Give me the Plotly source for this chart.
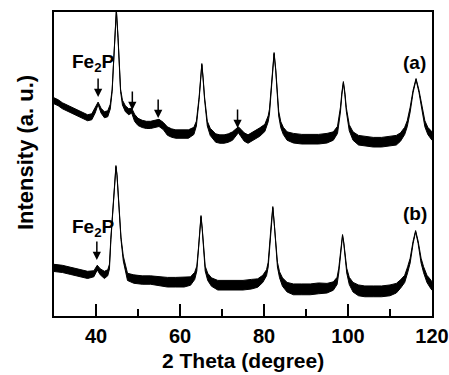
import plotly.graph_objects as go

# ---- data (intensity in arbitrary units) ----
a_theta = [30, 31, 32, 33, 34, 35, 36, 37, 38, 39, 39.8, 40.5, 41.2, 42, 42.8, 43.4, 43.85, 44.15, 44.45, 44.85,
           45.25, 45.55, 45.85, 46.3, 47, 47.8, 48.5, 49.2, 50, 51, 52, 53, 54, 55, 56, 57, 58, 59, 60, 61, 62,
           63.3, 63.9, 64.55, 64.9, 65.2, 65.5, 65.85, 66.5, 67.2, 68.5, 69.5, 70.5, 71.5, 72.5, 73.3, 73.9, 74.5,
           75.3, 76.2, 77, 78, 79, 80.2, 81.0, 81.3, 81.65, 82.0, 82.4, 82.8, 83.15, 83.5, 84.0, 84.6, 85.5, 87,
           89, 91, 93, 95, 96.5, 97.5, 98.2, 98.55, 98.9, 99.25, 99.6, 100.3, 101.2, 102.5, 104, 106, 108, 110,
           111.5, 112.5, 113.5, 114.1, 114.8, 115.5, 116.2, 116.9, 117.6, 118.3, 119.0, 120]
a_int = [216, 214, 211, 209, 207, 205, 203, 201, 199, 200, 206, 213, 206, 202, 203, 210, 226, 251, 278, 306,
         278, 251, 226, 214, 208, 205, 206, 199, 195, 193, 192, 192, 193, 194, 191, 186, 184, 183, 183, 183, 183,
         186, 193, 218, 238, 252, 238, 218, 193, 185, 179, 178, 178, 179, 181, 184, 187, 184,
         180, 178, 180, 182, 185, 189, 198, 205, 222, 246, 263, 246, 222, 203, 192, 186, 181, 179,
         178, 178, 178, 179, 181, 187, 207, 223, 234, 223, 207, 189, 181, 177, 176, 175, 175, 176,
         177, 180, 186, 193, 207, 225, 237, 225, 207, 193, 186, 181]
a_noise = [2.5, 2.5, 2.5, 2.5, 2.5, 2.5, 2.5, 2.5, 2.5, 2.5, 2, 1, 2, 2.5, 2.5, 2, 1, 0.5, 0.5, 0.5,
           0.5, 0.5, 1, 2, 2.5, 2.5, 2, 3, 3, 3, 3, 3, 3, 3, 3, 3.5, 3.5, 3.5, 3.5, 3.5, 3.5,
           3, 2, 1, 0.5, 0.5, 0.5, 1, 2, 3, 3.5, 3.5, 3.5, 3.5, 3.5, 3, 2.5, 3,
           3.5, 3.5, 3.5, 3.5, 3.5, 3, 2.5, 2, 1, 0.5, 0.5, 0.5, 1, 2, 2.5, 3, 3.5, 4,
           4, 4, 4, 4, 3.5, 3, 2, 1, 0.5, 1, 1.5, 2.5, 3.5, 4, 4, 4, 4, 4,
           4, 3.5, 3, 2.5, 2, 1, 0.5, 1, 2, 2.5, 3, 3.5]

b_theta = [30, 32, 34, 36, 38, 39.5, 40.3, 41, 42, 42.8, 43.2, 43.55, 44.1, 44.5, 44.75, 45.0, 45.4, 45.95,
           46.5, 47.5, 49, 51, 53, 55, 57, 59, 61, 62.5, 63.5, 64.0, 64.4, 64.7, 65.0, 65.3, 65.6, 66.0, 66.6,
           67.5, 69, 71, 73, 75, 77, 78.5, 79.7, 80.6, 81.0, 81.4, 81.75, 82.1, 82.45, 82.8, 83.2, 83.7, 84.4,
           85.5, 87, 89, 91, 93, 95, 96.5, 97.4, 97.8, 98.1, 98.4, 98.7, 99.0, 99.35, 99.7, 100.3, 101.2, 102.5,
           104, 106, 108, 110, 111.5, 112.5, 113.5, 114.2, 114.8, 115.5, 116.1, 116.7, 117.4, 118.0, 118.8,
           119.5, 120]
b_int = [49, 48, 46, 44, 42, 43, 49, 45, 42, 44, 50, 78, 111, 141, 150, 141, 111, 78,
         58, 40, 38, 37, 37, 36, 35, 35, 35, 36, 41, 48, 67, 87, 100, 87, 67, 48, 40,
         35, 32, 32, 32, 32, 33, 34, 38, 44, 52, 70, 93, 109, 93, 70, 52, 42, 35,
         30, 28, 28, 28, 29, 29, 31, 36, 46, 59, 73, 81, 73, 59, 46, 36, 30, 27,
         26, 26, 26, 27, 29, 33, 38, 47, 56, 74, 85, 74, 56, 47, 38,
         34, 31]
b_noise = [3, 3, 3, 3, 3, 2.5, 2, 2.5, 3, 2.5, 2, 1, 0.5, 0.5, 0.5, 0.5, 0.5, 1,
           2, 3, 3.5, 3.5, 3.5, 3.5, 4, 4, 4, 3.5, 3, 2, 1, 0.5, 0.5, 0.5, 1, 2, 3,
           3.5, 4, 4, 4, 4, 4, 3.5, 3, 2.5, 2, 1, 0.5, 0.5, 0.5, 1, 2, 2.5, 3.5,
           4, 4.5, 4.5, 4.5, 4.5, 4, 3.5, 3, 2, 1, 0.5, 0.5, 0.5, 1, 2, 3, 4, 4.5,
           4.5, 4.5, 4.5, 4.5, 4, 3.5, 3, 2.5, 2, 1, 0.5, 1, 2, 2.5, 3,
           3.5, 3.5]

x_ticks = [40, 60, 80, 100, 120]

FONT = "Liberation Sans, Arial, Helvetica, sans-serif"

fig = go.Figure()
for th, it, nz in [(a_theta, a_int, a_noise), (b_theta, b_int, b_noise)]:
    lower = [v - 1.5 * n for v, n in zip(it, nz)]
    upper = [v + 0.9 * n for v, n in zip(it, nz)]
    fig.add_trace(go.Scatter(x=th, y=lower, mode="lines", line=dict(color="black", width=1),
                             showlegend=False, hoverinfo="skip"))
    fig.add_trace(go.Scatter(x=th, y=upper, mode="lines", line=dict(color="black", width=1),
                             fill="tonexty", fillcolor="black", showlegend=False, hoverinfo="skip"))

# arrows marking Fe2P reflections
arrow_pts = [(40.5, 219), (48.65, 206), (54.8, 198), (73.7, 188), (40.2, 56)]
for xa, ya in arrow_pts:
    fig.add_annotation(x=xa, y=ya, text="", showarrow=True, ax=0, ay=-20, arrowhead=2,
                       arrowsize=1.1, arrowwidth=1.5, arrowcolor="black", standoff=0)

labels = [(39.3, 253, "Fe<sub>2</sub>P"), (39.3, 88, "Fe<sub>2</sub>P"), (115.95, 254, "(a)"), (115.95, 103, "(b)")]
for xl, yl, tx in labels:
    fig.add_annotation(x=xl, y=yl, text=tx, showarrow=False, xanchor="center", yanchor="middle",
                       font=dict(family=FONT, size=19, color="black", weight="bold"))

fig.add_annotation(xref="paper", yref="paper", x=-0.077, y=0.539, text="Intensity (a. u.)",
                   textangle=-90, showarrow=False, xanchor="center", yanchor="middle",
                   font=dict(family=FONT, size=22, color="black", weight="bold"))
fig.add_annotation(xref="paper", yref="paper", x=0.5, y=-0.148, text="2 Theta (degree)",
                   showarrow=False, xanchor="center", yanchor="middle",
                   font=dict(family=FONT, size=21, color="black", weight="bold"))

fig.update_layout(
    width=449, height=375,
    margin=dict(l=54, r=17, t=12, b=59, autoexpand=False),
    paper_bgcolor="white", plot_bgcolor="white",
    showlegend=False,
)
fig.update_xaxes(range=[30, 120], tickmode="array", tickvals=x_ticks, ticktext=[str(v) for v in x_ticks],
                 ticks="inside", ticklen=12, tickwidth=1.5, tickcolor="black", automargin=False,
                 ticklabelstandoff=1,
                 minor=dict(tickmode="linear", tick0=30, dtick=10, ticks="inside", ticklen=7,
                            tickwidth=1.5, tickcolor="black", showgrid=False),
                 showline=True, linecolor="black", linewidth=2, mirror=True, showgrid=False, zeroline=False,
                 tickfont=dict(family=FONT, size=20, color="black", weight="bold"))
fig.update_yaxes(range=[0, 304], showticklabels=False, ticks="", showline=True, linecolor="black",
                 linewidth=2, mirror=True, showgrid=False, zeroline=False, automargin=False)

fig.write_html("out.html", config={"displayModeBar": False},
               post_script="document.body.style.margin='0';document.body.style.overflow='hidden';")
